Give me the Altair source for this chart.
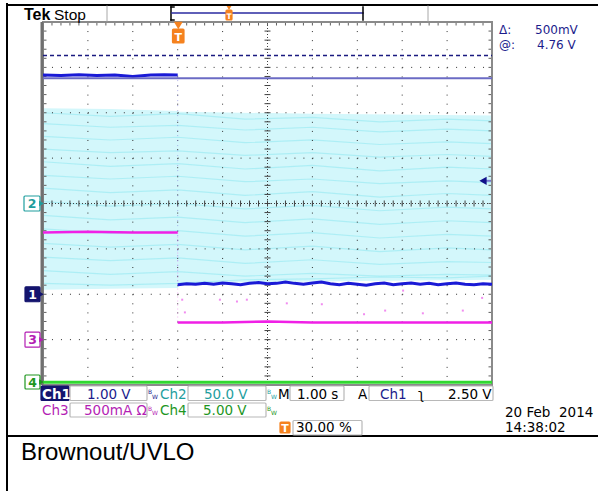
import altair as alt
import pandas as pd

# ---------------- recorded traces ----------------
# time is in seconds relative to the trigger (1.00 s/div, trigger at 30 %)
ch1_pre_t = [-3.0, -2.6, -2.2, -1.8, -1.4, -1.0, -0.6, -0.3, 0.0]
ch1_pre_v = [4.83, 4.82, 4.84, 4.82, 4.83, 4.80, 4.83, 4.84, 4.83]

ch1_post_t = [0.0, 0.2, 0.4, 0.6, 0.8, 1.0, 1.2, 1.4, 1.6, 1.8, 2.0, 2.2,
              2.4, 2.6, 2.8, 3.0, 3.2, 3.4, 3.6, 3.8, 4.0, 4.2, 4.4, 4.6,
              4.8, 5.0, 5.2, 5.4, 5.6, 5.8, 6.0, 6.2, 6.4, 6.6, 6.8, 7.0]
ch1_post_v = [0.21, 0.23, 0.22, 0.24, 0.22, 0.25, 0.23, 0.21, 0.24, 0.26,
              0.23, 0.24, 0.27, 0.24, 0.22, 0.25, 0.27, 0.23, 0.21, 0.24,
              0.22, 0.20, 0.23, 0.25, 0.21, 0.23, 0.25, 0.22, 0.24, 0.21,
              0.23, 0.25, 0.22, 0.21, 0.23, 0.22]

# Ch2 line voltage: envelope of the aliased mains waveform (V)
ch2_env_t = [-3.0, -1.5, 0.0, 0.05, 3.0, 7.0]
ch2_env_hi = [105.0, 104.0, 102.0, 101.0, 99.0, 97.0]
ch2_env_lo = [-95.0, -94.0, -93.0, -88.0, -86.0, -84.0]
ch2_streak_t = [-3.0, -1.5, 0.0, 1.5, 3.0, 4.5, 6.0, 7.0]
ch2_streaks = [
    [100, 96, 99, 93, 95, 90, 93, 91],
    [88, 84, 86, 81, 84, 79, 82, 80],
    [74, 70, 73, 67, 70, 65, 68, 66],
    [60, 56, 58, 53, 56, 51, 54, 52],
    [46, 41, 44, 38, 42, 36, 40, 38],
    [31, 27, 30, 24, 27, 22, 25, 23],
    [17, 12, 15, 9, 13, 7, 11, 9],
    [2, -3, 0, -6, -2, -8, -4, -6],
    [-13, -18, -15, -21, -17, -23, -19, -21],
    [-28, -33, -30, -36, -32, -38, -34, -36],
    [-44, -48, -45, -51, -47, -53, -49, -51],
    [-59, -63, -60, -66, -62, -67, -64, -65],
    [-74, -78, -75, -80, -77, -80, -78, -79],
    [-88, -90, -88, -84, -83, -81, -82, -80],
]

ch3_pre_t = [-3.0, -2.0, -1.0, 0.0]
ch3_pre_a = [1.18, 1.19, 1.18, 1.18]
ch3_post_t = [0.0, 1.0, 2.0, 3.0, 4.0, 5.0, 6.0, 7.0]
ch3_post_a = [0.19, 0.19, 0.20, 0.19, 0.19, 0.19, 0.19, 0.19]
ch3_spike_t = [0.10, 0.16, 0.94, 1.32, 1.54, 2.43, 3.21, 4.15, 4.62, 5.02, 5.46, 6.35, 6.78]
ch3_spike_a = [0.44, 0.30, 0.44, 0.42, 0.44, 0.40, 0.39, 0.28, 0.32, 0.54, 0.29, 0.32, 0.46]

ch4_t = [-3.0, 7.0]
ch4_v = [0.3, 0.3]

# channel vertical settings: units per division and ground position (div)
SCALE = {1: 1.0, 2: 50.0, 3: 0.5, 4: 5.0}
OFFSET = {1: -2.0, 2: 0.0, 3: -3.0, 4: -4.0}

cursor_a_v = 5.26
cursor_b_v = 4.76
trig_level_v = 2.50

# ---------------- layout / colours ----------------
W, H = 449, 363
LEFT, TOP = 43, 22
NAVY = "#1c1c8c"
NAVY_BOX = "#14146e"
TEAL = "#1e9e9e"
MAG = "#b41eb4"
GRN = "#1e961e"
ORANGE = "#f5821f"
C_CH1 = "#1a1ad6"
C_CH2 = "#d3f7fb"
C_CH3 = "#f020e6"
C_CH4 = "#30d830"


def div(v, ch):
    return v / SCALE[ch] + OFFSET[ch]


def ypx(d):
    return (4 - d) / 8 * H


X = alt.X("t:Q", scale=alt.Scale(domain=[-3, 7], nice=False, zero=False), axis=None)
Y = alt.Y("d:Q", scale=alt.Scale(domain=[-4, 4], nice=False, zero=False), axis=None)
PX = alt.X("x:Q", scale=None, axis=None)
PY = alt.Y("y:Q", scale=None, axis=None)

layers = []

# ---- Ch2 band and texture ----
band = pd.DataFrame({"t": ch2_env_t,
                     "d": [div(v, 2) for v in ch2_env_hi],
                     "d2": [div(v, 2) for v in ch2_env_lo]})
layers.append(alt.Chart(band).mark_area(color=C_CH2, opacity=1).encode(x=X, y=Y, y2="d2:Q"))

rows = []
for i, s in enumerate(ch2_streaks):
    for t, v in zip(ch2_streak_t, s):
        rows.append({"t": t, "d": div(v, 2), "k": i})
layers.append(alt.Chart(pd.DataFrame(rows)).mark_line(color="#8ee8f1", strokeWidth=1.2, opacity=0.55)
              .encode(x=X, y=Y, detail="k:N"))

# ---- graticule ----
vgrid = pd.DataFrame({"t": [-2, -1, 0, 1, 3, 4, 5, 6]})
hgrid = pd.DataFrame({"d": [-3, -2, -1, 1, 2, 3]})
layers.append(alt.Chart(vgrid).mark_rule(color="#303030", strokeWidth=1, strokeDash=[1, 8.075])
              .encode(x=X, y=alt.value(0), y2=alt.value(H)))
layers.append(alt.Chart(hgrid).mark_rule(color="#303030", strokeWidth=1, strokeDash=[1, 7.98])
              .encode(y=Y, x=alt.value(0), x2=alt.value(W)))
layers.append(alt.Chart(pd.DataFrame({"t": [2]})).mark_rule(color="#404040", strokeWidth=1, strokeDash=[1, 2])
              .encode(x=X, y=alt.value(0), y2=alt.value(H)))
layers.append(alt.Chart(pd.DataFrame({"d": [0]})).mark_rule(color="#404040", strokeWidth=1, strokeDash=[1, 2])
              .encode(y=Y, x=alt.value(0), x2=alt.value(W)))

yt = [round(-4 + 0.2 * k, 2) for k in range(1, 40)]
xt = [round(-3 + 0.2 * k, 2) for k in range(1, 50)]


def ticks(df, shape, size, color="#404040"):
    return alt.Chart(df).mark_point(shape=shape, size=size, filled=False, stroke=color,
                                    strokeWidth=1, opacity=1).encode(x=X, y=Y)


layers.append(ticks(pd.DataFrame({"t": [2] * len(yt), "d": yt}), "M-1,0L1,0", 36))
layers.append(ticks(pd.DataFrame({"t": xt, "d": [0] * len(xt)}), "M0,-1L0,1", 36))
layers.append(ticks(pd.DataFrame({"t": [-3] * len(yt), "d": yt}), "M0,0L1,0", 49, "#606060"))
layers.append(ticks(pd.DataFrame({"t": [7] * len(yt), "d": yt}), "M-1,0L0,0", 49, "#606060"))
layers.append(ticks(pd.DataFrame({"t": xt, "d": [4] * len(xt)}), "M0,0L0,1", 49, "#606060"))

layers.append(alt.Chart(pd.DataFrame({"a": [0]})).mark_rect(fillOpacity=0, stroke="#8a8a8a", strokeWidth=2)
              .encode(x=alt.value(0), x2=alt.value(W), y=alt.value(0), y2=alt.value(H)))
layers.append(alt.Chart(pd.DataFrame({"a": [0]})).mark_rule(color="#707070", strokeWidth=3)
              .encode(x=alt.value(-1), y=alt.value(0), y2=alt.value(H)))

# ---- Ch4 ----
layers.append(alt.Chart(pd.DataFrame({"t": ch4_t, "d": [div(v, 4) for v in ch4_v]}))
              .mark_line(color=C_CH4, strokeWidth=3).encode(x=X, y=Y))

# ---- Ch3 ----
spk = pd.DataFrame({"t": ch3_spike_t, "d": [div(a, 3) for a in ch3_spike_a]})
layers.append(alt.Chart(spk).mark_point(shape="square", filled=True, color="#f080ee", size=4, opacity=0.9)
              .encode(x=X, y=Y))
layers.append(alt.Chart(pd.DataFrame({"t": [0], "d": [div(ch3_pre_a[-1], 3)], "d2": [div(ch3_post_a[0], 3)]}))
              .mark_rule(color="#f090f0", strokeWidth=1, strokeDash=[1, 3], opacity=0.7)
              .encode(x=X, y=Y, y2="d2:Q"))
ch3 = pd.DataFrame({"t": ch3_pre_t + ch3_post_t,
                    "d": [div(a, 3) for a in ch3_pre_a + ch3_post_a],
                    "seg": ["pre"] * len(ch3_pre_t) + ["post"] * len(ch3_post_t)})
layers.append(alt.Chart(ch3).mark_line(color=C_CH3, strokeWidth=2.5).encode(x=X, y=Y, detail="seg:N"))

# ---- Ch1 ----
layers.append(alt.Chart(pd.DataFrame({"t": [0], "d": [div(ch1_pre_v[-1], 1)], "d2": [div(ch1_post_v[0], 1)]}))
              .mark_rule(color="#8080e0", strokeWidth=1, strokeDash=[1, 4], opacity=0.6)
              .encode(x=X, y=Y, y2="d2:Q"))
ch1 = pd.DataFrame({"t": ch1_pre_t + ch1_post_t,
                    "d": [div(v, 1) for v in ch1_pre_v + ch1_post_v],
                    "seg": ["pre"] * len(ch1_pre_t) + ["post"] * len(ch1_post_t)})
layers.append(alt.Chart(ch1).mark_line(color=C_CH1, strokeWidth=3).encode(x=X, y=Y, detail="seg:N"))

# ---- cursors and trigger level ----
layers.append(alt.Chart(pd.DataFrame({"d": [div(cursor_a_v, 1)]}))
              .mark_rule(color="#1a1a80", strokeWidth=1.5, strokeDash=[4, 3])
              .encode(y=Y, x=alt.value(0), x2=alt.value(W)))
layers.append(alt.Chart(pd.DataFrame({"d": [div(cursor_b_v, 1)]}))
              .mark_rule(color="#6b6bc4", strokeWidth=2)
              .encode(y=Y, x=alt.value(0), x2=alt.value(W)))
layers.append(alt.Chart(pd.DataFrame({"d": [div(trig_level_v, 1)]}))
              .mark_rule(color="#7a7ad0", strokeWidth=2)
              .encode(y=Y, x=alt.value(W - 7), x2=alt.value(W - 1)))
layers.append(alt.Chart(pd.DataFrame({"d": [div(trig_level_v, 1)]}))
              .mark_point(shape="triangle-left", filled=True, color="#10108a", size=70, opacity=1)
              .encode(y=Y, x=alt.value(W - 9)))

# ---------------- screen decorations (pixel coordinates) ----------------
def rx(x):
    return x - LEFT


def ry(y):
    return y - TOP


rules = [
    (7, 597, 5, 5, "#000000", 2),
    (7, 7, 4, 491, "#000000", 2),
    (7, 597, 436, 436, "#000000", 2),
    (107, 107, 6, 21, "#a8a8a8", 1),
    (428, 428, 6, 21, "#a8a8a8", 1),
    (171, 171, 7, 20, "#000000", 1.5),
    (171, 174, 7, 7, "#000000", 1.5),
    (171, 174, 20, 20, "#000000", 1.5),
    (172, 363, 13, 13, "#2a2aa0", 1.5),
    (363, 363, 7, 20, "#000000", 1.5),
]
rules_df = pd.DataFrame([{"x": rx(a), "x2": rx(b), "y": ry(c), "y2": ry(d), "c": col, "w": w}
                         for a, b, c, d, col, w in rules])
layers.append(alt.Chart(rules_df).mark_rule(strokeCap="square").encode(
    x=PX, x2="x2:Q", y=PY, y2="y2:Q",
    color=alt.Color("c:N", scale=None), strokeWidth=alt.StrokeWidth("w:Q", scale=None)))

m_y = {ch: TOP + ypx(OFFSET[ch]) for ch in SCALE}
m_y[4] = min(m_y[4], 382)
rects = [
    (41, 69, 386, 400.5, NAVY_BOX, NAVY_BOX),
    (70, 147, 386, 400.5, "transparent", "#b8b8b8"),
    (188, 266, 386, 400.5, "transparent", "#b8b8b8"),
    (290, 344, 386, 400.5, "transparent", "#b8b8b8"),
    (369, 493, 386, 400.5, "transparent", "#b8b8b8"),
    (70, 147, 403, 417, "transparent", "#b8b8b8"),
    (188, 266, 403, 417, "transparent", "#b8b8b8"),
    (293, 362, 420.5, 435, "transparent", "#b8b8b8"),
    (280, 290, 422, 433, ORANGE, ORANGE),
    (226, 232, 10, 20, ORANGE, ORANGE),
    (172.5, 184, 29, 43, ORANGE, ORANGE),
    (24, 40, m_y[2] - 7.5, m_y[2] + 7.5, "#ffffff", TEAL),
    (25, 40, m_y[1] - 7.5, m_y[1] + 7.5, NAVY_BOX, NAVY_BOX),
    (25, 40, m_y[3] - 7.5, m_y[3] + 7.5, "#ffffff", MAG),
    (25, 40, m_y[4] - 7, m_y[4] + 7, "#ffffff", GRN),
]
rects_df = pd.DataFrame([{"x": rx(a), "x2": rx(b), "y": ry(c), "y2": ry(d), "f": f, "s": s}
                         for a, b, c, d, f, s in rects])
layers.append(alt.Chart(rects_df).mark_rect(strokeWidth=1.2, cornerRadius=1).encode(
    x=PX, x2="x2:Q", y=PY, y2="y2:Q",
    fill=alt.Fill("f:N", scale=None), stroke=alt.Stroke("s:N", scale=None)))

tris = [
    (41.5, m_y[2], "triangle-right", TEAL, 30),
    (41.5, m_y[1], "triangle-right", NAVY_BOX, 30),
    (41.5, m_y[3], "triangle-right", MAG, 30),
    (41.5, m_y[4], "triangle-right", GRN, 30),
    (229, 8, "triangle-down", ORANGE, 22),
    (178.3, 25.5, "triangle-down", ORANGE, 80),
]
tris_df = pd.DataFrame([{"x": rx(a), "y": ry(b), "sh": sh, "c": c, "sz": sz} for a, b, sh, c, sz in tris])
layers.append(alt.Chart(tris_df).mark_point(filled=True, opacity=1).encode(
    x=PX, y=PY, shape=alt.Shape("sh:N", scale=None), color=alt.Color("c:N", scale=None),
    size=alt.Size("sz:Q", scale=None)))


def text_layer(items, font, size, weight="normal", align="left"):
    df = pd.DataFrame([{"x": rx(a), "y": ry(b), "s": s, "c": c} for s, a, b, c in items])
    return alt.Chart(df).mark_text(font=font, fontSize=size, fontWeight=weight, align=align,
                                   baseline="alphabetic").encode(
        x=PX, y=PY, text="s:N", color=alt.Color("c:N", scale=None))


SANS = "Liberation Sans"
DV = "DejaVu Sans"

delta_txt = f"{round((cursor_a_v - cursor_b_v) * 1000):d}mV"
at_txt = f"{cursor_b_v:.2f} V"

layers.append(text_layer([("Tek", 24, 19.5, "#000000")], SANS, 16, "bold"))
layers.append(text_layer([("Stop", 54, 19.5, "#000000")], SANS, 15.5))
layers.append(text_layer([("Δ:", 499, 34, NAVY), (delta_txt, 535, 34, NAVY),
                          ("@:", 499, 48.5, NAVY), (at_txt, 537, 48.5, NAVY)], DV, 12))
layers.append(text_layer([
    ("1.00 V", 87, 398.5, NAVY), ("Ch2", 160, 398.5, TEAL), ("50.0 V", 204, 398.5, TEAL),
    ("M", 278, 398.5, "#000000"), ("1.00 s", 297, 398.5, "#000000"), ("A", 358, 398.5, "#000000"),
    ("Ch1", 380, 398.5, NAVY), ("ʅ", 418, 398.5, "#000000"), ("2.50 V", 448, 398.5, "#000000"),
    ("Ch3", 42, 415, MAG), ("500mA Ω", 84, 415, MAG), ("Ch4", 160, 415, GRN), ("5.00 V", 203, 415, GRN),
    ("30.00 %", 296, 432, "#000000"),
    ("20 Feb\u00a0 2014", 505, 417, "#000000"), ("14:38:02", 505, 431.7, "#000000"),
], DV, 13.5))
layers.append(text_layer([("Ch1", 42, 398.5, "#ffffff")], DV, 13.5, "bold"))
bw = []
for xb, yb, c in [(148, 398.5, NAVY), (267, 398.5, TEAL), (148, 415, MAG), (267, 415, GRN)]:
    bw.append(("B", xb, yb - 4.5, c))
    bw.append(("W", xb + 4, yb, c))
layers.append(text_layer(bw, DV, 6))
layers.append(text_layer([("2", 32, m_y[2] + 4.5, TEAL), ("1", 32.5, m_y[1] + 4.5, "#ffffff"),
                          ("3", 32.5, m_y[3] + 4.5, MAG), ("4", 32.5, m_y[4] + 4.5, GRN)],
                         DV, 12.5, "bold", "center"))
layers.append(text_layer([("T", 178.3, 40.5, "#ffffff"), ("T", 285, 431.5, "#ffffff")],
                         DV, 11, "bold", "center"))
layers.append(text_layer([("T", 229, 18.5, "#ffffff")], DV, 7.5, "bold", "center"))
layers.append(text_layer([("Brownout/UVLO", 21, 460, "#000000")], SANS, 24))

chart = alt.layer(*layers).resolve_scale(x="independent", y="independent").properties(
    width=W, height=H,
    padding={"left": LEFT, "top": TOP, "right": 603 - LEFT - W, "bottom": 491 - TOP - H},
    autosize=alt.AutoSizeParams(type="none"),
    background="#ffffff",
).configure_view(stroke=None)

chart.save("out.html", embed_options={"renderer": "svg", "actions": False})
